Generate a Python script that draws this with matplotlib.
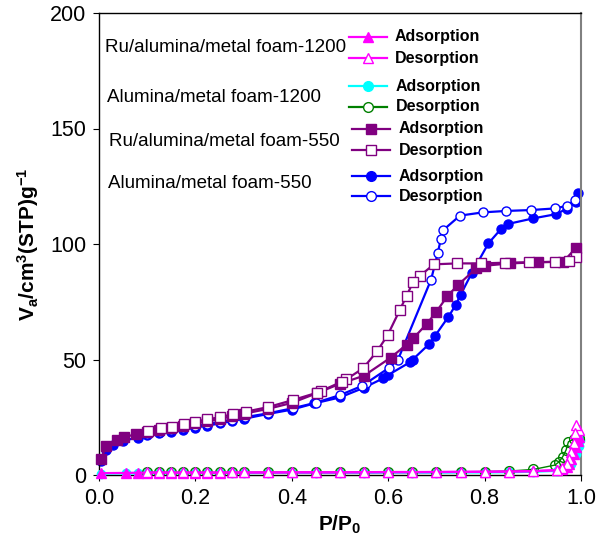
import matplotlib
matplotlib.use("Agg")
import matplotlib.pyplot as plt
from matplotlib.lines import Line2D

plt.rcParams['font.family'] = ['Liberation Sans', 'DejaVu Sans']
plt.rcParams['mathtext.fontset'] = 'custom'
plt.rcParams['mathtext.bf'] = 'Liberation Sans:bold'
plt.rcParams['mathtext.rm'] = 'Liberation Sans:bold'

# Alumina/metal foam-550
al550_ads_p = [0.004, 0.015, 0.03, 0.05, 0.08, 0.1, 0.125, 0.15, 0.175, 0.2, 0.225, 0.25, 0.275, 0.3,
               0.35, 0.4, 0.447, 0.5, 0.55, 0.59, 0.6, 0.645, 0.651, 0.685, 0.697, 0.725, 0.74, 0.75,
               0.773, 0.808, 0.834, 0.849, 0.901, 0.948, 0.97, 0.989, 0.993]
al550_ads_v = [6.0, 11.0, 13.2, 14.8, 16.2, 17.2, 18.0, 18.8, 19.6, 20.5, 21.4, 22.3, 23.3, 24.3,
               26.4, 28.3, 31.0, 33.6, 37.8, 41.9, 43.3, 48.8, 50.0, 56.7, 60.2, 68.5, 73.6, 77.9,
               87.3, 100.3, 106.5, 108.7, 111.1, 112.9, 115.2, 118.0, 122.2]
al550_des_p = [0.988, 0.97, 0.946, 0.896, 0.844, 0.797, 0.749, 0.714, 0.709, 0.703, 0.689, 0.62,
               0.601, 0.554, 0.545, 0.5, 0.45, 0.402, 0.351, 0.302, 0.276, 0.25, 0.224, 0.2, 0.175,
               0.15, 0.127, 0.1]
al550_des_v = [119.0, 116.5, 115.4, 114.7, 114.3, 113.7, 112.3, 106.0, 102.0, 96.2, 84.6, 49.8,
               46.3, 39.7, 38.5, 34.6, 31.3, 28.9, 26.7, 25.0, 24.0, 23.0, 22.1, 21.2, 20.3,
               19.3, 18.6, 17.8]

# Ru/alumina/metal foam-550
ru550_ads_p = [0.004, 0.015, 0.038, 0.052, 0.076, 0.1, 0.125, 0.15, 0.175, 0.2, 0.225, 0.25, 0.275,
               0.3, 0.35, 0.4, 0.453, 0.5, 0.55, 0.605, 0.638, 0.652, 0.68, 0.7, 0.723, 0.745, 0.783,
               0.8, 0.853, 0.91, 0.963, 0.99]
ru550_ads_v = [6.9, 12.5, 15.3, 16.4, 17.6, 18.6, 19.6, 20.3, 21.2, 22.3, 23.3, 24.2, 25.4,
               26.5, 28.6, 31.2, 35.5, 39.5, 43.0, 50.8, 56.4, 59.2, 65.4, 70.7, 77.5, 82.3, 89.5,
               90.6, 91.6, 92.1, 92.3, 98.4]
ru550_des_p = [0.99, 0.975, 0.946, 0.893, 0.842, 0.793, 0.743, 0.695, 0.665, 0.652, 0.638, 0.624,
               0.599, 0.577, 0.548, 0.513, 0.504, 0.46, 0.452, 0.403, 0.351, 0.304, 0.277, 0.251,
               0.225, 0.2, 0.176, 0.151, 0.128, 0.101]
ru550_des_v = [94.5, 92.8, 92.3, 92.1, 91.9, 91.6, 91.6, 91.2, 86.1, 83.7, 77.5, 71.4,
               60.6, 53.6, 46.2, 41.4, 40.4, 36.3, 35.6, 32.5, 29.4, 27.4, 26.3, 25.0,
               24.1, 23.1, 21.9, 20.9, 20.2, 19.2]

# Alumina/metal foam-1200
al1200_ads_p = [0.004, 0.055, 0.08, 0.1, 0.125, 0.15, 0.175, 0.2, 0.225, 0.25, 0.275, 0.3, 0.35,
                0.4, 0.45, 0.5, 0.55, 0.6, 0.65, 0.7, 0.75, 0.8, 0.85, 0.9, 0.95, 0.97, 0.98,
                0.99, 0.995, 0.998]
al1200_ads_v = [0.6, 0.7, 0.7, 0.7, 0.7, 0.7, 0.8, 0.8, 0.8, 0.8, 0.8, 0.8, 0.9,
                0.9, 0.9, 0.9, 0.9, 1.0, 1.0, 1.0, 1.1, 1.1, 1.2, 1.4, 1.8, 2.9, 4.9,
                8.9, 12.4, 15.0]
al1200_des_p = [0.995, 0.985, 0.974, 0.969, 0.962, 0.955, 0.946, 0.901, 0.85, 0.8, 0.75, 0.7, 0.65,
                0.6, 0.55, 0.5, 0.45, 0.4, 0.35, 0.3, 0.275, 0.25, 0.225, 0.2, 0.175, 0.15,
                0.125, 0.1]
al1200_des_v = [16.0, 15.5, 14.4, 10.8, 7.9, 5.8, 4.3, 2.4, 1.7, 1.5, 1.4, 1.4, 1.3,
                1.3, 1.3, 1.2, 1.2, 1.2, 1.2, 1.1, 1.1, 1.1, 1.1, 1.1, 1.1, 1.1,
                1.1, 1.1]

# Ru/alumina/metal foam-1200
ru1200_ads_p = [0.004, 0.055, 0.08, 0.1, 0.125, 0.15, 0.175, 0.2, 0.225, 0.25, 0.275, 0.3, 0.35,
                0.4, 0.45, 0.5, 0.55, 0.6, 0.65, 0.7, 0.75, 0.8, 0.85, 0.9, 0.95, 0.96, 0.97,
                0.975, 0.98, 0.985, 0.99, 0.993, 0.995]
ru1200_ads_v = [0.8, 0.9, 1.0, 1.0, 1.0, 1.0, 1.0, 1.0, 1.0, 1.0, 1.1, 1.1, 1.1,
                1.1, 1.1, 1.1, 1.2, 1.2, 1.2, 1.3, 1.3, 1.4, 1.5, 1.7, 2.0, 2.6, 3.5,
                4.8, 6.8, 9.2, 12.2, 14.6, 16.5]
ru1200_des_p = [0.995, 0.99, 0.988, 0.985, 0.98, 0.975, 0.97, 0.96, 0.95, 0.9, 0.85, 0.8, 0.75,
                0.7, 0.65, 0.6, 0.55, 0.5, 0.45, 0.4, 0.35, 0.3, 0.275, 0.25, 0.225, 0.2,
                0.175, 0.15, 0.125, 0.1]
ru1200_des_v = [19.5, 21.5, 18.0, 14.0, 10.0, 7.0, 4.7, 3.1, 2.2, 1.6, 1.5, 1.4, 1.4,
                1.3, 1.3, 1.3, 1.2, 1.2, 1.2, 1.2, 1.1, 1.1, 1.1, 1.1, 1.1, 1.1,
                1.1, 1.1, 1.1, 1.1]

xticks = [0.0, 0.2, 0.4, 0.6, 0.8, 1.0]
yticks = [0, 50, 100, 150, 200]

PURPLE = "#800080"
BLUE = "#0000ff"
MAGENTA = "#ff00ff"
CYAN = "#00ffff"
GREEN = "#008000"

fig = plt.figure(figsize=(6.11, 5.46), dpi=100)
ax = fig.add_axes([99 / 611, 71 / 546, 482 / 611, 462 / 546])

lw = 1.6
ax.plot(al550_ads_p, al550_ads_v, color=BLUE, lw=lw, marker="o", ms=6.5, mfc=BLUE, mec=BLUE, zorder=2, clip_on=False)
ax.plot(al550_des_p, al550_des_v, color=BLUE, lw=lw, marker="o", ms=6.5, mfc="white", mec=BLUE, zorder=2, clip_on=False)
ax.plot(ru550_ads_p, ru550_ads_v, color=PURPLE, lw=lw, marker="s", ms=6.5, mfc=PURPLE, mec=PURPLE, zorder=3, clip_on=False)
ax.plot(ru550_des_p, ru550_des_v, color=PURPLE, lw=lw, marker="s", ms=6.5, mfc="white", mec=PURPLE, zorder=3, clip_on=False)
ax.plot(al1200_ads_p, al1200_ads_v, color=CYAN, lw=lw, marker="o", ms=6, mfc=CYAN, mec=CYAN, zorder=4, clip_on=False)
ax.plot(al1200_des_p, al1200_des_v, color=GREEN, lw=1.0, marker="o", ms=7, mfc="none", mec=GREEN, zorder=4, clip_on=False)
ax.plot(ru1200_ads_p, ru1200_ads_v, color=MAGENTA, lw=lw, marker="^", ms=6.5, mfc=MAGENTA, mec=MAGENTA, zorder=5, clip_on=False)
ax.plot(ru1200_des_p, ru1200_des_v, color=MAGENTA, lw=lw, marker="^", ms=6.5, mfc="white", mec=MAGENTA, zorder=5, clip_on=False)

ax.set_xlim(0, 1.0)
ax.set_ylim(0, 200)
ax.set_xticks(xticks)
ax.set_xticklabels([f"{t:.1f}" for t in xticks])
ax.set_yticks(yticks)
ax.tick_params(labelsize=15.5, direction="out", length=4, width=0.8, pad=5)
ax.spines["right"].set_color("#808080")
ax.spines["right"].set_linewidth(1.5)
for s in ("left", "top", "bottom"):
    ax.spines[s].set_linewidth(1.0)

ax.set_xlabel(r"$\mathbf{P/P_0}$", fontsize=15, labelpad=4)
ax.set_ylabel(r"$\mathbf{V_a/cm^3(STP)g^{-1}}$", fontsize=15, labelpad=7)

# hand-made legend: sample name on the left, two marker entries on the right
def fx(px):
    return (px - 99) / 482

def fy(py):
    return (475 - py) / 462

groups = [
    ("Ru/alumina/metal foam-1200", 105, 48, 349, 387, 395,
     [(37, MAGENTA, "^", MAGENTA, "Adsorption"), (58, MAGENTA, "^", "white", "Desorption")]),
    ("Alumina/metal foam-1200", 107, 98, 349, 387, 396,
     [(86, CYAN, "o", CYAN, "Adsorption"), (107, GREEN, "o", "white", "Desorption")]),
    ("Ru/alumina/metal foam-550", 109, 141, 352, 390, 399,
     [(129, PURPLE, "s", PURPLE, "Adsorption"), (150, PURPLE, "s", "white", "Desorption")]),
    ("Alumina/metal foam-550", 108, 184, 352, 390, 399,
     [(176, BLUE, "o", BLUE, "Adsorption"), (196, BLUE, "o", "white", "Desorption")]),
]
for name, nx, ny, hx0, hx1, tx, rows in groups:
    ax.text(fx(nx), fy(ny), name, transform=ax.transAxes, fontsize=13.5, va="center", ha="left")
    for ry, col, mk, face, lab in rows:
        ln = Line2D([fx(hx0), fx(hx1)], [fy(ry), fy(ry)], transform=ax.transAxes, color=col, lw=lw)
        ax.add_line(ln)
        mkl = Line2D([fx((hx0 + hx1) / 2)], [fy(ry)], transform=ax.transAxes, marker=mk, ms=7,
                     mfc=face, mec=col, ls="none")
        ax.add_line(mkl)
        ax.text(fx(tx), fy(ry), lab, transform=ax.transAxes, fontsize=11.5, fontweight="bold",
                va="center", ha="left")

fig.savefig("out.png", dpi=100)
